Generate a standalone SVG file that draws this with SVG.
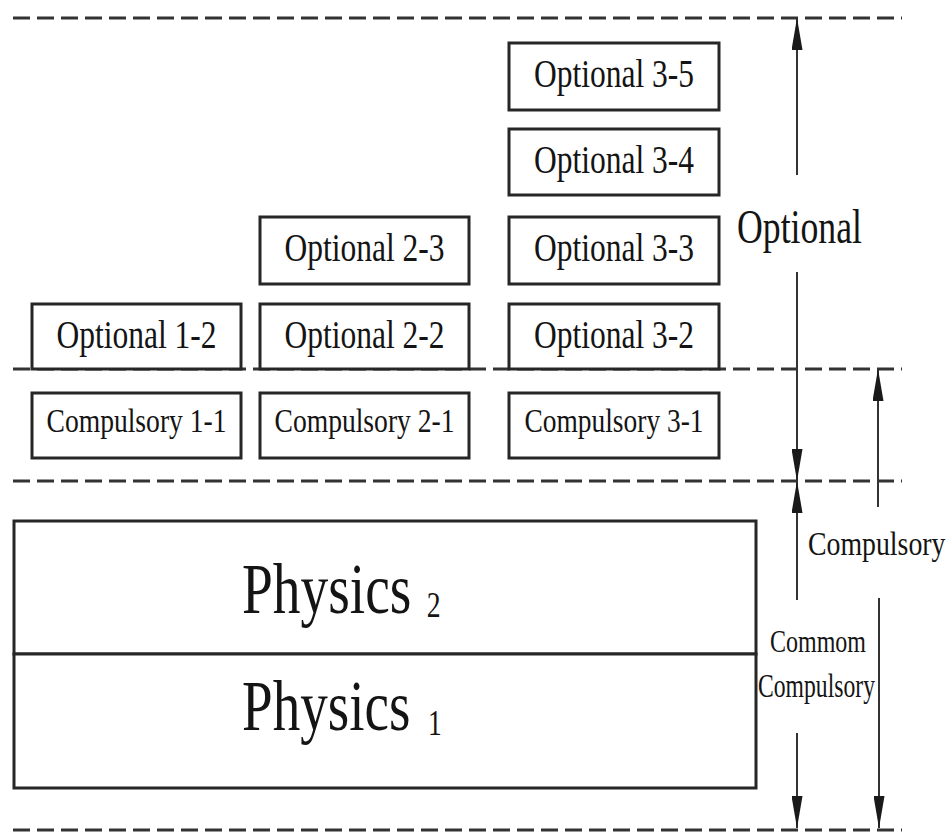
<svg xmlns="http://www.w3.org/2000/svg" width="952" height="832" viewBox="0 0 952 832">
  <defs>
    <style>
      .box { fill: #ffffff; stroke: #262626; stroke-width: 3; }
      .guide { stroke: #333333; stroke-width: 3; stroke-dasharray: 17 7; fill: none; }
      .dim { stroke: #333333; stroke-width: 2; fill: none; marker-end: url(#tip); }
      .lbl { font-family: "Liberation Serif", "Times New Roman", serif; fill: #141414; }
      .opt { font-size: 40px; text-anchor: middle; }
      .cmp { font-size: 33px; text-anchor: middle; }
      .phy { font-size: 72px; }
      .sub { font-size: 36px; }
    </style>
    <marker id="tip" markerUnits="userSpaceOnUse" markerWidth="32" markerHeight="11" refX="32" refY="5.5" orient="auto">
      <path d="M0,0 L32,5.5 L0,11 z" fill="#1a1a1a"/>
    </marker>
  </defs>
  <rect width="952" height="832" fill="#ffffff"/>

  <!-- level guide lines -->
  <g id="guides">
    <line class="guide" x1="13" y1="18" x2="902" y2="18"/>
    <line class="guide" x1="13" y1="369" x2="902" y2="369"/>
    <line class="guide" x1="13" y1="481" x2="902" y2="481"/>
    <line class="guide" x1="13" y1="830" x2="902" y2="830"/>
  </g>

  <!-- column 1 -->
  <g id="optional-1-2">
    <rect class="box" x="32" y="304" width="209" height="65"/>
    <text class="lbl opt" x="136.5" y="348" textLength="160" lengthAdjust="spacingAndGlyphs">Optional 1-2</text>
  </g>
  <g id="compulsory-1-1">
    <rect class="box" x="32" y="393" width="209" height="65"/>
    <text class="lbl cmp" x="136.5" y="432" textLength="180" lengthAdjust="spacingAndGlyphs">Compulsory 1-1</text>
  </g>

  <!-- column 2 -->
  <g id="optional-2-3">
    <rect class="box" x="260" y="217" width="209" height="67"/>
    <text class="lbl opt" x="364.5" y="261" textLength="160" lengthAdjust="spacingAndGlyphs">Optional 2-3</text>
  </g>
  <g id="optional-2-2">
    <rect class="box" x="260" y="304" width="209" height="65"/>
    <text class="lbl opt" x="364.5" y="348" textLength="160" lengthAdjust="spacingAndGlyphs">Optional 2-2</text>
  </g>
  <g id="compulsory-2-1">
    <rect class="box" x="260" y="393" width="209" height="65"/>
    <text class="lbl cmp" x="364.5" y="432" textLength="180" lengthAdjust="spacingAndGlyphs">Compulsory 2-1</text>
  </g>

  <!-- column 3 -->
  <g id="optional-3-5">
    <rect class="box" x="509" y="43" width="210" height="67"/>
    <text class="lbl opt" x="614" y="87" textLength="160" lengthAdjust="spacingAndGlyphs">Optional 3-5</text>
  </g>
  <g id="optional-3-4">
    <rect class="box" x="509" y="129" width="210" height="66"/>
    <text class="lbl opt" x="614" y="173" textLength="160" lengthAdjust="spacingAndGlyphs">Optional 3-4</text>
  </g>
  <g id="optional-3-3">
    <rect class="box" x="509" y="217" width="210" height="67"/>
    <text class="lbl opt" x="614" y="261" textLength="160" lengthAdjust="spacingAndGlyphs">Optional 3-3</text>
  </g>
  <g id="optional-3-2">
    <rect class="box" x="509" y="304" width="210" height="65"/>
    <text class="lbl opt" x="614" y="348" textLength="160" lengthAdjust="spacingAndGlyphs">Optional 3-2</text>
  </g>
  <g id="compulsory-3-1">
    <rect class="box" x="509" y="393" width="210" height="65"/>
    <text class="lbl cmp" x="614" y="432" textLength="179" lengthAdjust="spacingAndGlyphs">Compulsory 3-1</text>
  </g>

  <!-- common base courses (condensed serif titles) -->
  <g id="physics-2">
    <rect class="box" x="14" y="521" width="742" height="133"/>
    <g transform="translate(242,613) scale(0.77,1)">
      <text class="lbl phy" x="0" y="0">Physics</text>
      <text class="lbl sub" x="240" y="4">2</text>
    </g>
  </g>
  <g id="physics-1">
    <rect class="box" x="14" y="654" width="742" height="134"/>
    <g transform="translate(242,730) scale(0.765,1)">
      <text class="lbl phy" x="0" y="0">Physics</text>
      <text class="lbl sub" x="243" y="5">1</text>
    </g>
  </g>

  <!-- span indicators -->
  <g id="connectors">
    <line class="dim" x1="797" y1="175" x2="797" y2="18"/>
    <line class="dim" x1="797" y1="272" x2="797" y2="481"/>
    <line class="dim" x1="797" y1="600" x2="797" y2="481"/>
    <line class="dim" x1="797" y1="733" x2="797" y2="828"/>
    <line class="dim" x1="878" y1="507" x2="878" y2="369"/>
    <line class="dim" x1="879" y1="598" x2="879" y2="828"/>
  </g>

  <g id="span-labels">
    <text class="lbl" x="737" y="243" font-size="48" textLength="125" lengthAdjust="spacingAndGlyphs">Optional</text>
    <g transform="translate(808,555) scale(0.818,1)">
      <text class="lbl" x="0" y="0" font-size="34">Compulsory</text>
    </g>
    <text class="lbl" x="770" y="652" font-size="32" textLength="96" lengthAdjust="spacingAndGlyphs">Commom</text>
    <text class="lbl" x="758" y="697" font-size="33" textLength="117" lengthAdjust="spacingAndGlyphs">Compulsory</text>
  </g>
</svg>
